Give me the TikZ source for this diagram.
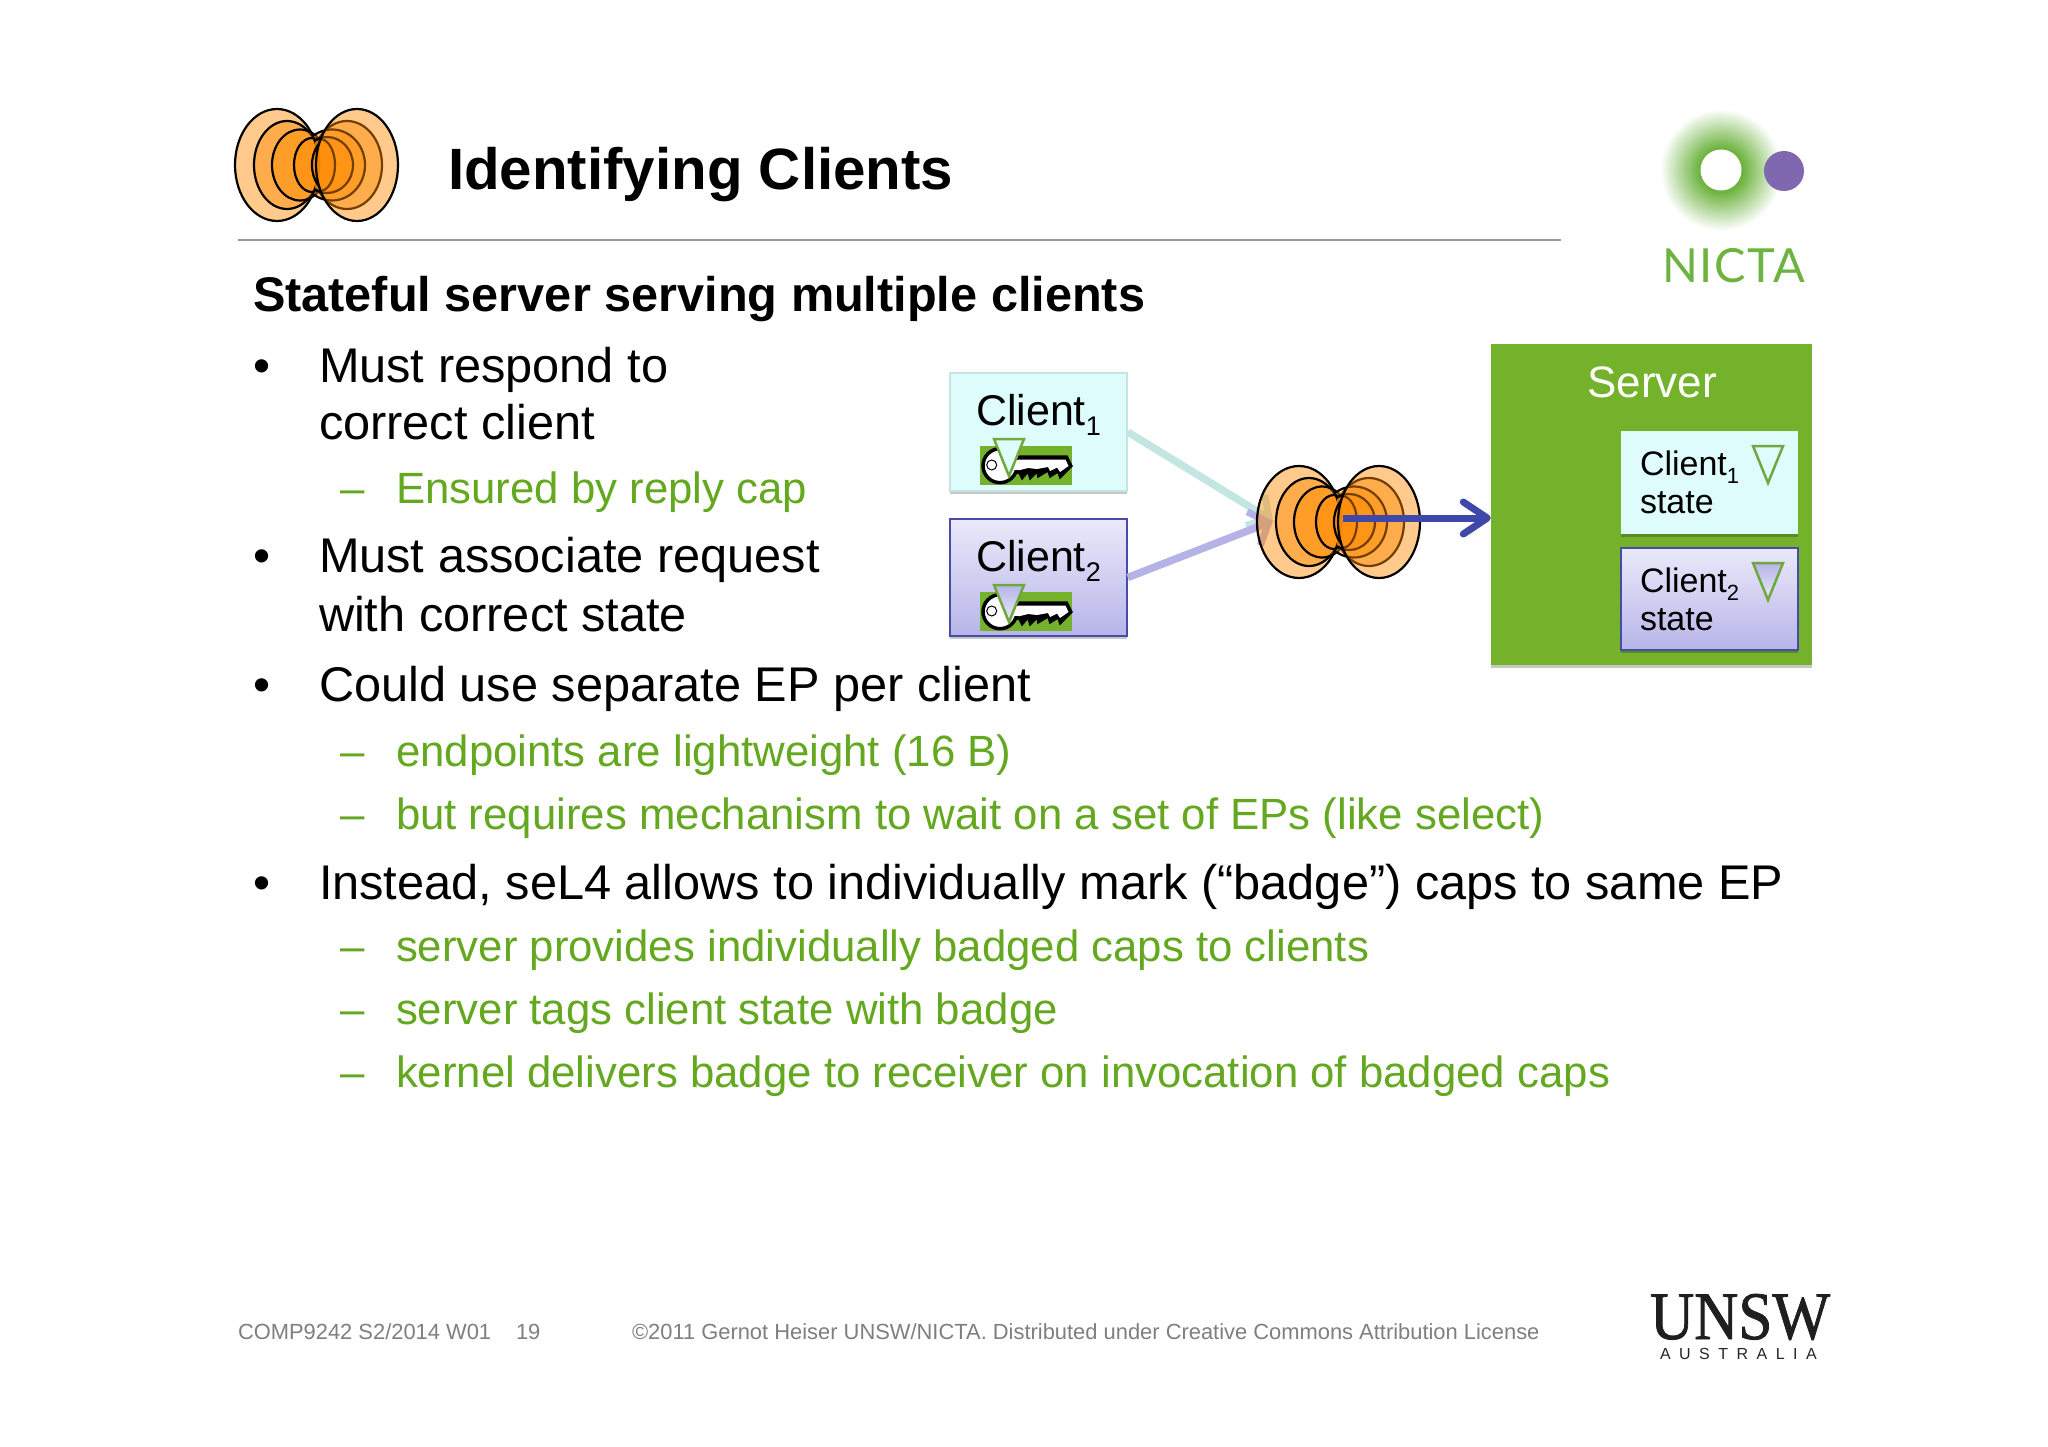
\documentclass[tikz,border=0pt]{standalone}
\usepackage{fontspec}
\usetikzlibrary{arrows.meta,shadows,shapes.geometric}
\setmainfont{Liberation Sans}
\newfontfamily\nictafont[LetterSpace=3.5]{Lato}
\newfontfamily\unswfont[FakeBold=1.2]{Liberation Serif}
\newfontfamily\ausfont[LetterSpace=53]{Liberation Sans}
\definecolor{nictagreen}{HTML}{64A820}
\definecolor{servergreen}{HTML}{74B22C}
\definecolor{logogreen}{HTML}{6DB33F}
\definecolor{logopurple}{HTML}{7F68B0}
\definecolor{trigreen}{HTML}{6FA83C}
\definecolor{footgray}{HTML}{7F7F7F}
\definecolor{cyanlt}{HTML}{DEFCFC}
\definecolor{cyanedge}{HTML}{C4E6E2}
\definecolor{lavtop}{HTML}{EBE9F9}
\definecolor{lavbot}{HTML}{B7B5E9}
\definecolor{lavedge}{HTML}{474CA6}
\definecolor{lavarrow}{HTML}{B5B3E6}
\definecolor{bluearrow}{HTML}{3F48A8}
\definecolor{hgorange}{HTML}{FF8A00}
\pgfdeclareradialshading{nictaglow}{\pgfpoint{0bp}{0bp}}{color(0bp)=(logogreen); color(9bp)=(logogreen); color(25bp)=(white); color(50bp)=(white)}
\newcommand\fs[1]{\fontsize{#1}{#1}\selectfont}
\newcommand\bigsub[1]{\raisebox{-10pt}{\fs{27}#1}}
\newcommand\smallsub[1]{\raisebox{-8pt}{\fs{22}#1}}
\newcommand\trimark[4]{\draw[line width=2.5pt,trigreen,top color=#3,bottom color=#4,line join=miter] (#1,#2) -- ++(30,0) -- ++(-15,37) -- cycle;}
\newcommand\keyicon[4]{%
  \begin{scope}[shift={(#1,#2)}]
    \fill[servergreen] (0,0) rectangle (92,39);
    \draw[line width=1.5pt,fill=black,line join=miter] (33,10) -- (87,10) -- (92,20) -- (80,32) -- (78,26) -- (70,31) -- (68,25) -- (58,31) -- (57,26) -- (50,33) -- (48,26) -- (42,33) -- (39,27) -- (33,28) -- cycle;
    \fill[white] (33,13.5) -- (85.5,13.5) -- (88.5,20) -- (80,26) -- (77,21.5) -- (70,25) -- (68,21) -- (57,23) -- (48,22) -- (40,24) -- (33,24) -- cycle;
    \draw[line width=3.5pt,fill=white] (20,19.7) circle[radius=17pt];
    \fill[white] (28,13.5) rectangle (40,24);
    \draw[line width=1pt,fill=white] (11.7,19) circle[radius=5pt];
  \end{scope}
  \trimark{#1+14}{#2-7}{#3}{#4}}
\tikzset{
  x=1pt,y=-1pt,
  lbl/.style={anchor=base west,inner sep=0pt,outer sep=0pt},
  body/.style={lbl,font=\fs{48.7}},
  sub/.style={lbl,font=\fs{43.77},text=nictagreen},
  foot/.style={lbl,font=\fs{21.9},text=footgray},
  boxshadow/.style={drop shadow={shadow xshift=0pt,shadow yshift=-3pt,opacity=.22,fill=black}},
  clientone/.style={rectangle,inner sep=0pt,line width=1.5pt,draw=cyanedge,fill=cyanlt,boxshadow},
  clienttwo/.style={rectangle,inner sep=0pt,line width=1.5pt,draw=lavedge,top color=lavtop,bottom color=lavbot,boxshadow},
  flow/.style={line width=7.5pt,-{Straight Barb[length=16pt,width=36pt,line width=7pt]}},
  hgfill/.style={fill=hgorange,fill opacity=.45,line width=2.2pt,draw=black},
  hourglass/.pic={
    \begin{scope}
      \clip (-90,-70) rectangle (3,70);
      \fill[hgorange,opacity=.45] (-40,0) ellipse[x radius=42pt,y radius=56pt];
      \path[hgfill] (-30,0) ellipse[x radius=33pt,y radius=44pt];
      \path[hgfill] (-17,0) ellipse[x radius=28pt,y radius=35.5pt];
      \path[hgfill] (-5,0) ellipse[x radius=18pt,y radius=27pt];
      \draw[line width=2.2pt] (-40,0) ellipse[x radius=42pt,y radius=56pt];
    \end{scope}
    \begin{scope}
      \clip (-2,-70) rectangle (90,70);
      \path[hgfill] (30,0) ellipse[x radius=35pt,y radius=44pt];
      \path[hgfill] (15,0) ellipse[x radius=33pt,y radius=35.5pt];
      \path[hgfill] (10,0) ellipse[x radius=26pt,y radius=28pt];
      \path[hgfill] (3,0) ellipse[x radius=15pt,y radius=26pt];
    \end{scope}
    \begin{scope}
      \clip (-10,-70) rectangle (3,70);
      \draw[line width=2.2pt] (15,0) ellipse[x radius=20pt,y radius=28pt];
    \end{scope}
    \path[hgfill] (40,0) ellipse[x radius=41pt,y radius=56pt];
  }
}
\begin{document}
\begin{tikzpicture}
\useasboundingbox (0,0) rectangle (2048,1447);
\fill[white] (0,0) rectangle (2048,1447);

% header
\pic at (317,165) {hourglass};
\node[lbl,font=\fs{58.3}\bfseries] (title) at (448,190) {Identifying Clients};
\coordinate (ruleL) at (238,240);
\coordinate (ruleR) at (1561,240);
\draw[line width=1.5pt,color=black!40] (ruleL) -- (ruleR);

% NICTA logo
\shade[shading=nictaglow] (1721,170) circle[radius=61pt];
\fill[white] (1721,170) circle[radius=20.5pt];
\fill[logopurple] (1784,171) circle[radius=20pt];
\node[lbl,font=\nictafont\fs{47},text=logogreen] (nicta) at (1662,283) {NICTA};

% text
\node[lbl,font=\fs{48.65}\bfseries] (head) at (253,312) {Stateful server serving multiple clients};
\node[body] (b1) at (253,382) {•};
\node[body] (t1) at (319,382) {Must respond to};
\node[body] (t1b) at (319,439) {correct client};
\node[sub] (d1) at (340,503) {–};
\node[sub] (s1) at (396,503) {Ensured by reply cap};
\node[body] (b2) at (253,572) {•};
\node[body] (t2) at (319,572) {Must associate request};
\node[body] (t2b) at (319,631) {with correct state};
\node[body] (b3) at (253,701) {•};
\node[body] (t3) at (319,701) {Could use separate EP per client};
\node[sub] (d2) at (340,766) {–};
\node[sub] (s2) at (396,766) {endpoints are lightweight (16 B)};
\node[sub] (d3) at (340,829) {–};
\node[sub] (s3) at (396,829) {but requires mechanism to wait on a set of EPs (like select)};
\node[body] (b4) at (253,899) {•};
\node[body] (t4) at (319,899) {Instead, seL4 allows to individually mark (“badge”) caps to same EP};
\node[sub] (d4) at (340,961) {–};
\node[sub] (s4) at (396,961) {server provides individually badged caps to clients};
\node[sub] (d5) at (340,1024) {–};
\node[sub] (s5) at (396,1024) {server tags client state with badge};
\node[sub] (d6) at (340,1087) {–};
\node[sub] (s6) at (396,1087) {kernel delivers badge to receiver on invocation of badged caps};

% footer
\node[foot] (f1) at (238,1339) {COMP9242 S2/2014 W01};
\node[foot] (f2) at (516,1339) {19};
\node[foot] (f3) at (632,1339) {©2011 Gernot Heiser UNSW/NICTA. Distributed under Creative Commons Attribution License};

% UNSW
\node[lbl,font=\unswfont\fs{68},text=black!88,xscale=.9] (unsw) at (1650,1339) {UNSW};
\node[lbl,font=\ausfont\fs{16},text=black!85] (aus) at (1660,1359) {AUSTRALIA};

% diagram
\node[clientone,minimum width=177pt,minimum height=118pt] (client1) at (1038.5,432) {};
\node[clienttwo,minimum width=177pt,minimum height=117pt] (client2) at (1038.5,577.5) {};
\node[rectangle,inner sep=0pt,fill=servergreen,minimum width=321pt,minimum height=321pt,boxshadow] (server) at (1651.5,504.5) {};
\node[clientone,draw=none,minimum width=177pt,minimum height=103pt] (state1) at (1709.5,482.5) {};
\node[clienttwo,minimum width=177pt,minimum height=102pt] (state2) at (1709.5,599) {};

\coordinate (hubin) at (1273,521);
\coordinate (hubout) at (1343,518);
\draw[flow,cyanedge] (client1.east) -- (hubin);
\draw[flow,lavarrow] (client2.east) -- (hubin);
\pic at (1339,522) {hourglass};
\draw[line width=7pt,bluearrow,-{Straight Barb[length=24pt,width=32pt,line width=7pt,round]}] (hubout) -- (hubout -| server.west);

\node[lbl,font=\fs{43}] (c1) at (976,425) {Client\bigsub{1}};
\node[lbl,font=\fs{43}] (c2) at (976,571) {Client\bigsub{2}};
\keyicon{980}{446}{cyanlt}{cyanlt}
\keyicon{980}{592}{lavbot}{lavtop}

\node[lbl,font=\fs{44},text=white,anchor=base] (srv) at (1652,397) {Server};
\node[lbl,font=\fs{34}] (sc1) at (1640,475) {Client\smallsub{1}};
\node[lbl,font=\fs{34}] (ss1) at (1640,513) {state};
\node[lbl,font=\fs{34}] (sc2) at (1640,592) {Client\smallsub{2}};
\node[lbl,font=\fs{34}] (ss2) at (1640,630) {state};
\trimark{1753}{446}{cyanlt}{cyanlt}
\trimark{1753}{563}{lavbot}{lavtop}
\end{tikzpicture}
\end{document}
